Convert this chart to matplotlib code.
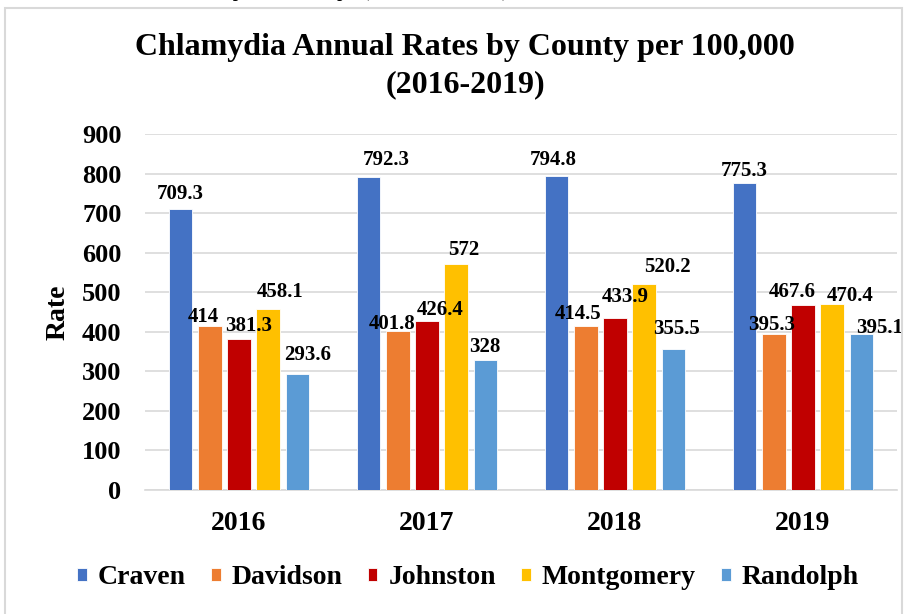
import matplotlib.pyplot as plt
import numpy as np

years = ['2016', '2017', '2018', '2019']
counties = ['Craven', 'Davidson', 'Johnston', 'Montgomery', 'Randolph']
craven = [709.3, 792.3, 794.8, 775.3]
davidson = [414, 401.8, 414.5, 395.3]
johnston = [381.3, 426.4, 433.9, 467.6]
montgomery = [458.1, 572, 520.2, 470.4]
randolph = [293.6, 328, 355.5, 395.1]
colors = ['#4472C4', '#ED7D31', '#C00000', '#FFC000', '#5B9BD5']

series = [craven, davidson, johnston, montgomery, randolph]

# hand-placed label nudges (pixels: dx, gap above bar), one row per county
nudge_px = [
    [(0, 10), (18, 12), (-3, 11), (0, 7)],
    [(-7, 4), (-6, 2), (-8, 7), (-2, 4)],
    [(10, 8), (13, 6), (10, 16), (-11, 8)],
    [(12, 12), (8, 9), (23, 12), (18, 3)],
    [(10, 14), (0, 8), (3, 15), (18, 1)],
]

plt.rcParams['font.family'] = ['Liberation Serif', 'DejaVu Serif']
plt.rcParams['font.weight'] = 'bold'

fig = plt.figure(figsize=(9.12, 6.14), dpi=100)
ax = fig.add_axes([145 / 912, 124 / 614, 752 / 912, 356 / 614])

# light frame around the chart, cut at the right/bottom like the screenshot
frame = plt.Rectangle((5 / 912, -0.05), 897 / 912, 1 - 8 / 614 + 0.05,
                      transform=fig.transFigure, fill=False,
                      edgecolor='#D9D9D9', linewidth=1.5)
fig.patches.append(frame)

# caption from the page above, mostly cut off
fig.text(512 / 912, 1 + 6 / 614, 'Annual Rates by County (2016-2019)',
         ha='right', va='baseline', fontsize=22)

x = np.arange(len(years))
width = 0.125
step = 0.155

for i, (name, vals) in enumerate(zip(counties, series)):
    pos = x + (i - 2) * step
    bars = ax.bar(pos, vals, width, color=colors[i], label=name,
                  edgecolor='white', linewidth=0.6, zorder=3)
    for j, (b, v) in enumerate(zip(bars, vals)):
        dx, dy = nudge_px[i][j]
        ax.annotate(f'{v:g}', (b.get_x() + b.get_width() / 2, v),
                    textcoords='offset points', xytext=(dx * 0.72, dy * 0.72),
                    ha='center', va='baseline', fontsize=15,
                    fontweight='bold', zorder=4)

ax.set_ylim(0, 900)
ax.set_yticks(np.arange(0, 901, 100))
ax.set_xlim(-0.5, 3.5)
ax.set_xticks(x)
ax.set_xticklabels(years)
ax.tick_params(axis='y', length=0, pad=17, labelsize=19)
ax.tick_params(axis='x', length=0, pad=15, labelsize=20)
ax.yaxis.grid(True, color='#D9D9D9', linewidth=1.2, zorder=0)
for s in ['top', 'right', 'left']:
    ax.spines[s].set_visible(False)
ax.spines['bottom'].set_color('#D9D9D9')
ax.spines['bottom'].set_linewidth(1.2)
ax.set_ylabel('Rate', fontsize=20, fontweight='bold', labelpad=8)

fig.text(465 / 912, 1 - 66 / 614,
         'Chlamydia Annual Rates by County per 100,000\n(2016-2019)',
         ha='center', va='center', fontsize=23, fontweight='bold',
         linespacing=1.4)

fig.legend(loc='center', bbox_to_anchor=(468 / 912, 36 / 614), ncol=5,
           frameon=False, fontsize=20, handlelength=0.35, handleheight=0.35,
           handletextpad=0.4, columnspacing=0.9)

fig.savefig('out.png', dpi=100)
